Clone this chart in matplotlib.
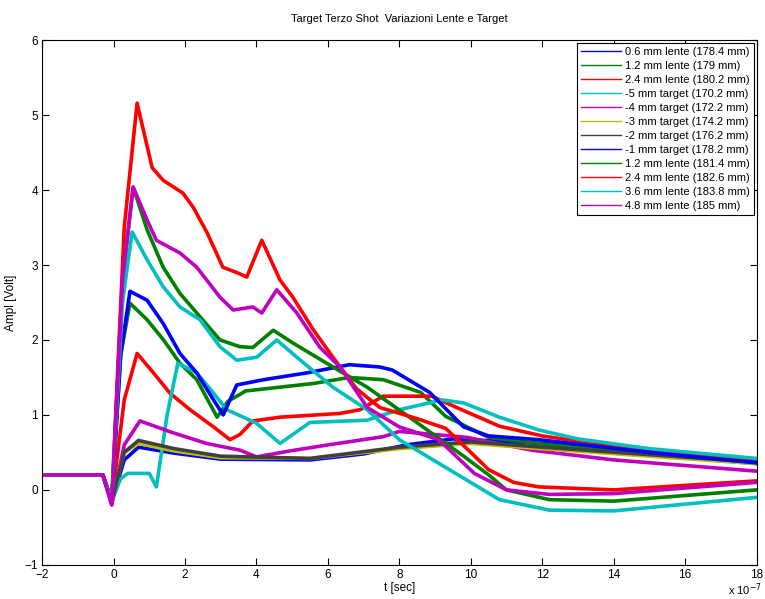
import matplotlib
matplotlib.use('Agg')
import matplotlib.pyplot as plt

plt.rcParams['font.family'] = ['Liberation Sans', 'DejaVu Sans']

# tempi in unita' di 1e-7 s, ampiezze in Volt
t_blu1 = [-2, -0.3, -0.05, 0.3, 0.7, 1.7, 3, 5.5, 7, 8.2, 9.5, 12, 15, 18]
v_blu1 = [0.2, 0.2, -0.15, 0.4, 0.57, 0.49, 0.41, 0.4, 0.48, 0.6, 0.68, 0.62, 0.5, 0.4]

t_verde1 = [-2, -0.3, -0.05, 0.2, 0.46, 0.94, 1.4, 1.86, 2.33, 2.9, 3.2, 3.7, 5.6, 6.6, 7.55, 8.6, 9.3, 10.5, 12.2, 15, 18]
v_verde1 = [0.2, 0.2, -0.15, 1.8, 2.49, 2.27, 2.0, 1.69, 1.47, 0.97, 1.18, 1.32, 1.42, 1.5, 1.47, 1.3, 0.98, 0.7, 0.6, 0.47, 0.35]

t_rosso1 = [-2, -0.3, -0.05, 0.3, 0.66, 1.12, 1.58, 2.14, 2.8, 3.26, 3.54, 3.9, 4.66, 6.34, 6.9, 7.55, 8.9, 9.6, 10.8, 12, 14, 16.6, 18]
v_rosso1 = [0.2, 0.2, -0.15, 1.2, 1.82, 1.56, 1.29, 1.07, 0.84, 0.67, 0.74, 0.92, 0.97, 1.02, 1.07, 1.25, 1.25, 1.1, 0.85, 0.72, 0.58, 0.45, 0.4]

t_ciano1 = [-2, -0.3, -0.05, 0.2, 0.4, 1.0, 1.2, 1.5, 1.8, 2.33, 2.8, 3.17, 4.0, 4.66, 5.5, 7.1, 8.0, 9.2, 9.8, 10.8, 11.9, 13, 15, 18]
v_ciano1 = [0.2, 0.2, -0.15, 0.15, 0.22, 0.22, 0.04, 1.0, 1.69, 1.56, 1.29, 1.07, 0.89, 0.62, 0.9, 0.93, 1.07, 1.2, 1.16, 0.97, 0.8, 0.68, 0.55, 0.42]

t_magenta1 = [-2, -0.3, -0.05, 0.3, 0.74, 1.68, 2.6, 3.54, 4.0, 4.94, 6, 7.55, 8.0, 9.9, 11.7, 14, 18]
v_magenta1 = [0.2, 0.2, -0.2, 0.6, 0.92, 0.76, 0.62, 0.53, 0.44, 0.52, 0.6, 0.71, 0.78, 0.7, 0.53, 0.4, 0.25]

t_giallo = [-2, -0.3, -0.05, 0.3, 0.7, 1.7, 3, 5.5, 8, 10, 12, 15, 18]
v_giallo = [0.2, 0.2, -0.15, 0.5, 0.62, 0.52, 0.43, 0.42, 0.55, 0.62, 0.55, 0.45, 0.35]

t_grigio = [-2, -0.3, -0.05, 0.3, 0.7, 1.7, 3, 5.5, 8, 10, 12, 15, 18]
v_grigio = [0.2, 0.2, -0.15, 0.5, 0.66, 0.55, 0.45, 0.42, 0.57, 0.64, 0.57, 0.47, 0.37]

t_blu2 = [-2, -0.3, -0.05, 0.2, 0.46, 0.94, 1.39, 1.86, 2.33, 2.8, 3.07, 3.45, 4.2, 5.4, 6.6, 7.45, 7.8, 8.85, 9.8, 10.5, 11.9, 15, 18]
v_blu2 = [0.2, 0.2, -0.15, 1.8, 2.65, 2.53, 2.22, 1.82, 1.56, 1.2, 1.0, 1.4, 1.47, 1.56, 1.67, 1.64, 1.6, 1.3, 0.84, 0.72, 0.67, 0.5, 0.36]

t_verde2 = [-2, -0.3, -0.05, 0.25, 0.55, 0.94, 1.39, 1.86, 2.33, 2.98, 3.54, 3.9, 4.47, 5.02, 6.14, 7.1, 8.4, 9.8, 10.5, 11, 12.2, 14, 18]
v_verde2 = [0.2, 0.2, -0.15, 2.8, 4.04, 3.47, 2.97, 2.62, 2.36, 2.0, 1.91, 1.9, 2.13, 1.96, 1.64, 1.37, 0.93, 0.45, 0.2, 0.0, -0.13, -0.15, 0.0]

t_rosso2 = [-2, -0.3, -0.05, 0.3, 0.66, 1.08, 1.39, 1.94, 2.23, 2.62, 3.06, 3.45, 3.73, 4.15, 4.66, 5.02, 5.6, 6.14, 6.8, 7.45, 8.5, 9.3, 10.0, 10.5, 11.2, 11.9, 14, 18]
v_rosso2 = [0.2, 0.2, -0.15, 3.5, 5.16, 4.3, 4.13, 3.96, 3.77, 3.43, 2.97, 2.9, 2.84, 3.33, 2.8, 2.57, 2.13, 1.77, 1.35, 1.1, 0.95, 0.82, 0.5, 0.27, 0.1, 0.04, 0.0, 0.12]

t_ciano2 = [-2, -0.3, -0.05, 0.25, 0.52, 0.94, 1.39, 1.86, 2.42, 2.98, 3.45, 4.01, 4.57, 5.13, 6.14, 7.1, 8.0, 9.4, 10.8, 12.2, 14, 18]
v_ciano2 = [0.2, 0.2, -0.15, 2.5, 3.44, 3.07, 2.71, 2.44, 2.27, 1.91, 1.73, 1.77, 2.0, 1.77, 1.37, 1.07, 0.67, 0.27, -0.13, -0.27, -0.28, -0.1]

t_magenta2 = [-2, -0.3, -0.05, 0.25, 0.55, 0.94, 1.2, 1.86, 2.33, 2.98, 3.35, 3.9, 4.15, 4.57, 5.13, 5.78, 6.34, 7.1, 8.0, 9.1, 10.1, 11, 12.2, 14, 18]
v_magenta2 = [0.2, 0.2, -0.2, 2.8, 4.04, 3.6, 3.33, 3.16, 2.97, 2.57, 2.4, 2.44, 2.36, 2.67, 2.36, 1.9, 1.64, 1.1, 0.84, 0.67, 0.22, 0.0, -0.06, -0.05, 0.1]

etichette = ['0.6 mm lente (178.4 mm)', '1.2 mm lente (179 mm)', '2.4 mm lente (180.2 mm)',
             '-5 mm target (170.2 mm)', '-4 mm target (172.2 mm)', '-3 mm target (174.2 mm)',
             '-2 mm target (176.2 mm)', '-1 mm target (178.2 mm)', '1.2 mm lente (181.4 mm)',
             '2.4 mm lente (182.6 mm)', '3.6 mm lente (183.8 mm)', '4.8 mm lente (185 mm)']

serie = [(t_blu1, v_blu1), (t_verde1, v_verde1), (t_rosso1, v_rosso1), (t_ciano1, v_ciano1),
         (t_magenta1, v_magenta1), (t_giallo, v_giallo), (t_grigio, v_grigio), (t_blu2, v_blu2),
         (t_verde2, v_verde2), (t_rosso2, v_rosso2), (t_ciano2, v_ciano2), (t_magenta2, v_magenta2)]

# colori di default di MATLAB
colori = ['#0000ff', '#008000', '#ff0000', '#00bfbf', '#bf00bf', '#bfbf00', '#404040',
          '#0000ff', '#008000', '#ff0000', '#00bfbf', '#bf00bf']

fig = plt.figure(figsize=(7.65, 5.99), dpi=100)
ax = fig.add_axes([0.055, 0.057, 0.934, 0.876])

for (t, v), c, lab in zip(serie, colori, etichette):
    ax.plot(t, v, color=c, lw=2.6, label=lab)

ax.set_xlim(-2, 18)
ax.set_ylim(-1, 6)
ax.set_xticks(range(-2, 19, 2))
ax.set_yticks(range(-1, 7))
ax.tick_params(direction='in', top=True, right=True, length=5, width=0.8, labelsize=8.5, pad=3)
for s in ax.spines.values():
    s.set_linewidth(0.8)

ax.set_title('Target Terzo Shot  Variazioni Lente e Target', fontsize=8, pad=13)
ax.set_xlabel('t [sec]', fontsize=8.5, labelpad=1)
ax.set_ylabel('Ampl [Volt]', fontsize=8.5, labelpad=5)
fig.text(0.952, 0.008, 'x 10$^{-7}$', fontsize=8)

leg = ax.legend(loc='upper right', fontsize=8, handlelength=3.6, labelspacing=0.36,
                borderaxespad=0.25, borderpad=0.35, handletextpad=0.35, fancybox=False,
                framealpha=1, edgecolor='black')
leg.get_frame().set_linewidth(0.8)
for l in leg.get_lines():
    l.set_linewidth(1.0)

plt.savefig('out.png', dpi=100)
